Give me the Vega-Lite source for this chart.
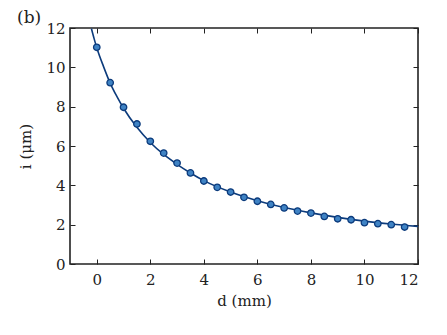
{
  "$schema": "https://vega.github.io/schema/vega-lite/v6.json",
  "width": 348,
  "height": 236,
  "autosize": "none",
  "padding": {"left": 70, "top": 28, "right": 29, "bottom": 71},
  "background": "white",
  "title": {"text": "(b)", "anchor": "start", "frame": "group", "dx": -53, "dy": 10, "offset": 4, "fontSize": 17, "font": "DejaVu Serif", "fontWeight": "normal", "color": "#222"},
  "config": {
    "view": {"stroke": "#222", "strokeWidth": 1.6},
    "font": "DejaVu Serif",
    "axis": {"domain": false, "grid": false, "tickColor": "#222", "tickSize": -5, "tickWidth": 1, "labelFont": "DejaVu Serif", "labelFontSize": 14, "labelColor": "#222", "titleFont": "DejaVu Serif", "titleFontSize": 15, "titleFontWeight": "normal", "titleColor": "#222"}
  },
  "datasets": {
    "fit": [
      {"d": -0.2, "i": 11.97}, {"d": -0.1, "i": 11.46}, {"d": 0, "i": 11.0}, {"d": 0.25, "i": 10.05},
      {"d": 0.5, "i": 9.2}, {"d": 0.75, "i": 8.52}, {"d": 1, "i": 7.92}, {"d": 1.5, "i": 6.95},
      {"d": 2, "i": 6.18}, {"d": 2.5, "i": 5.57}, {"d": 3, "i": 5.07}, {"d": 3.5, "i": 4.63},
      {"d": 4, "i": 4.24}, {"d": 5, "i": 3.66}, {"d": 6, "i": 3.22}, {"d": 7, "i": 2.87},
      {"d": 8, "i": 2.6}, {"d": 9, "i": 2.37}, {"d": 10, "i": 2.18}, {"d": 11, "i": 2.03}, {"d": 12, "i": 1.91}
    ],
    "obs": [
      {"d": 0, "i": 11.02}, {"d": 0.5, "i": 9.22}, {"d": 1, "i": 7.97}, {"d": 1.5, "i": 7.12},
      {"d": 2, "i": 6.24}, {"d": 2.5, "i": 5.64}, {"d": 3, "i": 5.13}, {"d": 3.5, "i": 4.63},
      {"d": 4, "i": 4.22}, {"d": 4.5, "i": 3.9}, {"d": 5, "i": 3.66}, {"d": 5.5, "i": 3.39},
      {"d": 6, "i": 3.19}, {"d": 6.5, "i": 3.03}, {"d": 7, "i": 2.85}, {"d": 7.5, "i": 2.69},
      {"d": 8, "i": 2.59}, {"d": 8.5, "i": 2.42}, {"d": 9, "i": 2.3}, {"d": 9.5, "i": 2.25},
      {"d": 10, "i": 2.1}, {"d": 10.5, "i": 2.05}, {"d": 11, "i": 2.0}, {"d": 11.5, "i": 1.88}
    ]
  },
  "layer": [
    {
      "data": {"name": "fit"},
      "mark": {"type": "line", "color": "#0c3b7c", "strokeWidth": 1.6, "clip": true, "interpolate": "monotone"},
      "encoding": {
        "x": {"field": "d", "type": "quantitative", "scale": {"domain": [-1, 12], "nice": false, "zero": false},
              "axis": {"orient": "bottom", "values": [0, 2, 4, 6, 8, 10, 12], "labelPadding": 13, "labelFontSize": 15, "title": "d (mm)", "titleFontStyle": "normal", "titlePadding": 6}},
        "y": {"field": "i", "type": "quantitative", "scale": {"domain": [0, 12], "nice": false},
              "axis": {"orient": "left", "values": [0, 2, 4, 6, 8, 10, 12], "labelPadding": 10, "labelFontSize": 15, "title": "i (μm)", "titlePadding": 12}}
      }
    },
    {
      "data": {"name": "obs"},
      "mark": {"type": "point", "filled": true, "fill": "#3f83c4", "stroke": "#0c3b7c", "strokeWidth": 1.3, "size": 42, "opacity": 1},
      "encoding": {
        "x": {"field": "d", "type": "quantitative",
              "axis": {"orient": "top", "values": [0, 2, 4, 6, 8, 10, 12], "labels": false, "title": null}},
        "y": {"field": "i", "type": "quantitative",
              "axis": {"orient": "right", "values": [0, 2, 4, 6, 8, 10, 12], "labels": false, "title": null}}
      }
    }
  ],
  "resolve": {"axis": {"x": "independent", "y": "independent"}}
}
